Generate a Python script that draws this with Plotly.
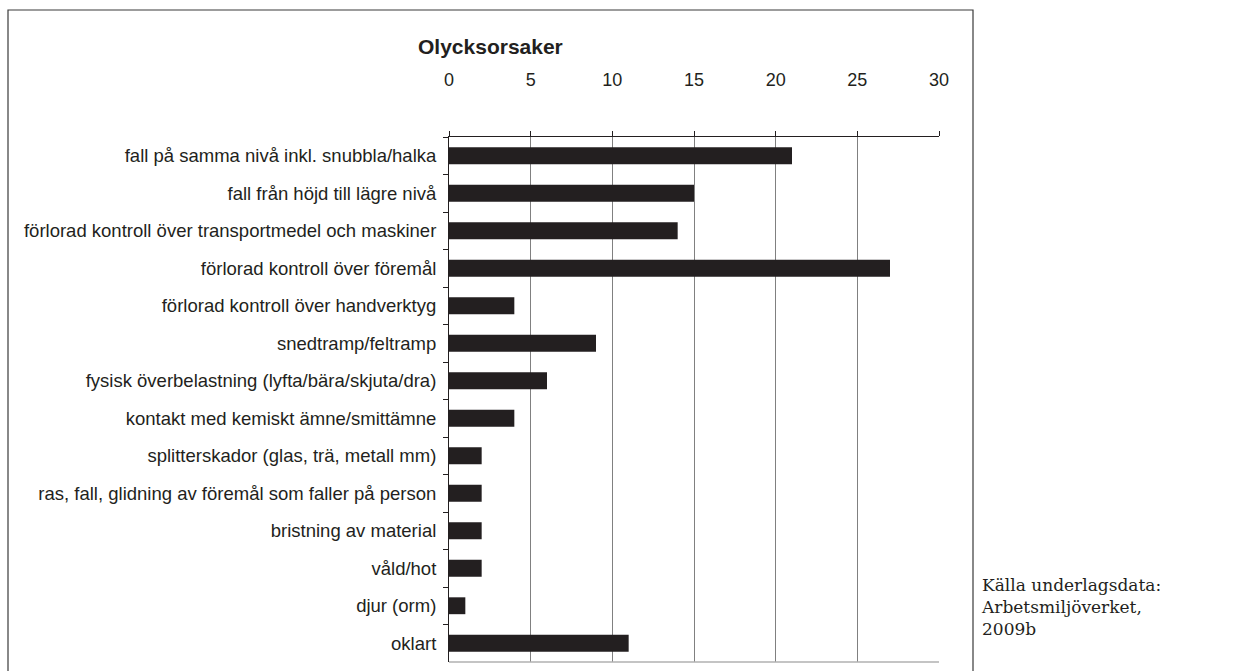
import plotly.graph_objects as go

categories = [
    "fall på samma nivå inkl. snubbla/halka",
    "fall från höjd till lägre nivå",
    "förlorad kontroll över transportmedel och maskiner",
    "förlorad kontroll över föremål",
    "förlorad kontroll över handverktyg",
    "snedtramp/feltramp",
    "fysisk överbelastning (lyfta/bära/skjuta/dra)",
    "kontakt med kemiskt ämne/smittämne",
    "splitterskador (glas, trä, metall mm)",
    "ras, fall, glidning av föremål som faller på person",
    "bristning av material",
    "våld/hot",
    "djur (orm)",
    "oklart",
]
counts = [21, 15, 14, 27, 4, 9, 6, 4, 2, 2, 2, 2, 1, 11]
x_ticks = [0, 5, 10, 15, 20, 25, 30]
source_lines = ["Källa underlagsdata:", "Arbetsmiljöverket,", "2009b"]

W, H = 1233, 671
L, R, T, B = 449, 939, 137, 662  # plot area in pixels


def px_x(p):
    return (p - L) / (R - L)


def px_y(p):
    return (B - p) / (B - T)


fig = go.Figure(
    go.Bar(
        x=counts,
        y=categories,
        orientation="h",
        width=0.45,
        marker=dict(color="#231f20", line=dict(width=0)),
        hoverinfo="x+y",
    )
)

annotations = [
    dict(text="<b>Olycksorsaker</b>", xref="paper", yref="paper",
         x=px_x(490), y=px_y(47), xanchor="center", yanchor="middle",
         showarrow=False, font=dict(size=21, color="#231f20")),
    dict(text="<br>".join(source_lines), xref="paper", yref="paper",
         x=px_x(979), y=px_y(607),
         xanchor="left", yanchor="middle", align="left", showarrow=False,
         font=dict(family="DejaVu Serif, Georgia, serif", size=17, color="#231f20")),
]

fig.update_layout(
    width=W,
    height=H,
    margin=dict(l=L, r=W - R, t=T, b=H - B, pad=0),
    paper_bgcolor="white",
    plot_bgcolor="white",
    showlegend=False,
    font=dict(family="Liberation Sans, Arial, sans-serif", size=18, color="#231f20"),
    xaxis=dict(
        side="top",
        range=[0, 30],
        tickvals=x_ticks,
        showgrid=True,
        gridcolor="#808080",
        gridwidth=1,
        zeroline=False,
        showline=True,
        linecolor="#231f20",
        linewidth=1,
        ticks="outside",
        ticklen=5,
        tickcolor="#231f20",
        ticklabelstandoff=38,
        tickfont=dict(size=18),
        fixedrange=True,
    ),
    yaxis=dict(
        type="category",
        autorange="reversed",
        showline=True,
        linecolor="#231f20",
        linewidth=1,
        ticks="outside",
        tickson="boundaries",
        ticklen=5,
        tickcolor="#231f20",
        ticklabelstandoff=8,
        showgrid=False,
        tickfont=dict(size=18.5),
        fixedrange=True,
    ),
    shapes=[
        # bottom edge of the plot area
        dict(type="line", xref="paper", yref="paper", x0=0, x1=1, y0=0, y1=0,
             line=dict(color="#b0b0b0", width=1.5)),
        # outer chart frame
        dict(type="rect", xref="paper", yref="paper",
             x0=px_x(8), x1=px_x(973), y0=px_y(10), y1=px_y(700),
             line=dict(color="#3a3a3a", width=1.2), fillcolor="rgba(0,0,0,0)"),
    ],
    annotations=annotations,
)

fig.write_html("out.html")
